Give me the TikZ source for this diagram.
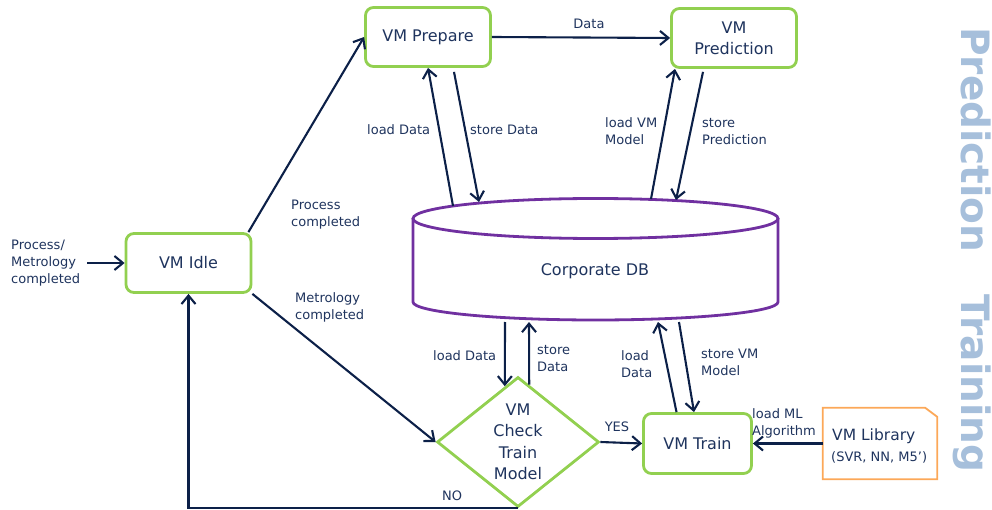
\documentclass[tikz,border=0pt]{standalone}
\usepackage{fontspec}
\setmainfont{DejaVu Sans}
\usetikzlibrary{arrows.meta,shapes.geometric,calc}

\definecolor{navytext}{RGB}{31,52,94}
\definecolor{navyline}{RGB}{12,32,72}
\definecolor{boxgreen}{RGB}{146,208,80}
\definecolor{dbpurple}{RGB}{112,48,160}
\definecolor{liborange}{RGB}{252,168,88}
\definecolor{phasecol}{RGB}{166,191,219}

\newcommand\mainsz{\fontsize{16}{21}\selectfont}
\newcommand\lblsz{\fontsize{13}{17}\selectfont}

\begin{document}
\begin{tikzpicture}[x=1pt,y=-1pt,
  statebox/.style={draw=boxgreen, line width=2.8pt, rounded corners=8pt, fill=white,
    text=navytext, font=\mainsz, align=center, inner sep=0pt},
  lbl/.style={text=navytext, font=\lblsz, align=left, inner sep=0pt},
  arr/.style={draw=navyline, line width=2.1pt, -{Straight Barb[length=8.5pt,width=14pt]}},
  phasetxt/.style={text=phasecol, font=\fontsize{39}{43}\selectfont\bfseries, rotate=-90, inner sep=0pt}
]
\fill[white] (0,0) rectangle (992,510);
\useasboundingbox (0,0) rectangle (992,510);

% workflow states
\node[statebox, minimum width=125pt, minimum height=59pt] (idle) at (188.5,263) {VM Idle};
\node[statebox, minimum width=125pt, minimum height=59pt] (prep) at (428,37) {VM Prepare};
\node[statebox, minimum width=125pt, minimum height=59pt] (pred) at (734,38) {VM\\Prediction};
\node[statebox, minimum width=108pt, minimum height=60pt] (train) at (697.5,443.5) {VM Train};

% decision
\node[diamond, draw=boxgreen, line width=2.8pt, minimum width=162pt, minimum height=130pt, inner sep=0pt] (chk) at (518,442) {};
\node[text=navytext, font=\fontsize{16}{21.5}\selectfont, align=center, inner sep=0pt] (chktxt) at (518,442) {VM\\Check\\Train\\Model};

% corporate database (cylinder)
\draw[draw=dbpurple, line width=2.8pt, fill=white] (413,218.5) -- (413,302)
  arc[start angle=180, end angle=360, x radius=182.5pt, y radius=18pt] -- (778,218.5);
\draw[draw=dbpurple, line width=2.8pt] (595.5,218.5) ellipse[x radius=182.5pt, y radius=20pt];
\node[text=navytext, font=\mainsz, inner sep=0pt] (db) at (595,271) {Corporate DB};
\coordinate (dbA) at (453,206);
\coordinate (dbB) at (479,202);
\coordinate (dbC) at (651,199);
\coordinate (dbD) at (676,200);
\coordinate (dbE) at (505,322);
\coordinate (dbF) at (529,322);
\coordinate (dbG) at (658,322);
\coordinate (dbH) at (679,322);

% algorithm library (document with clipped corner)
\node[minimum width=114pt, minimum height=71pt, inner sep=0pt] (lib) at (880,443.5) {};
\draw[draw=liborange, line width=1.8pt] (lib.south west) -- (lib.north west)
  -- ([xshift=-12pt]lib.north east) -- ([yshift=-9pt]lib.north east) -- (lib.south east) -- cycle;
\node[text=navytext, font=\fontsize{15.5}{19}\selectfont, anchor=base west, inner sep=0pt] (libname) at (832,440) {VM Library};
\node[text=navytext, font=\fontsize{13}{15}\selectfont, anchor=base west, inner sep=0pt] (libalgs) at (831,461) {(SVR, NN, M5’)};

% phase captions
\node[phasetxt, anchor=base west] (phpred) at (961,27) {Prediction};
\node[phasetxt, anchor=base west] (phtrain) at (961,294) {Training};

% labels
\node[lbl, anchor=west] (pm) at (11,263) {Process/\\Metrology\\completed};
\node[lbl, anchor=west] (lpc) at (291,215) {Process\\completed};
\node[lbl, anchor=west] (lmc) at (295,307.5) {Metrology\\completed};
\node[lbl] (ldata) at (589,24) {Data};
\node[lbl, anchor=west] (l1) at (367,130) {load Data};
\node[lbl, anchor=west] (l2) at (470,130) {store Data};
\node[lbl, anchor=west] (l3) at (605,131.5) {load VM\\Model};
\node[lbl, anchor=west] (l4) at (702,131.5) {store\\Prediction};
\node[lbl, anchor=west] (l5) at (433,356) {load Data};
\node[lbl, anchor=west] (l6) at (537,359) {store\\Data};
\node[lbl, anchor=west] (l7) at (621,364.5) {load\\Data};
\node[lbl, anchor=west] (l8) at (701,362) {store VM\\Model};
\node[lbl] (lyes) at (617,427) {YES};
\node[lbl] (lno) at (452,496) {NO};
\node[lbl, anchor=west] (lml) at (752,423) {load ML\\Algorithm};

% transitions
\draw[arr] ([xshift=7pt]pm.east) -- (idle.west);
\draw[arr] ([xshift=-4pt]idle.north east) -- (prep.west);
\draw[arr] (idle.south east) -- (chk.west);
\draw[arr] (chk.south) -- (chk.south -| idle.south) -- (idle.south);
\draw[arr] (chk.east) -- (train.west);
\draw[arr] (lib.west) -- (train.east);
\draw[arr] (prep.east) -- (pred.west);

% database access
\draw[arr] (dbA) -- (prep.south);
\draw[arr] ($(prep.south)+(26,4)$) -- (dbB);
\draw[arr] (dbC) -- ($(pred.south)+(-59,0)$);
\draw[arr] ($(pred.south)+(-31,3)$) -- (dbD);
\draw[arr] (dbE) -- ($(chk.north)!0.16!(chk.west)$);
\draw[arr] ($(chk.north)!0.136!(chk.east)$) -- (dbF);
\draw[arr] ($(train.north)+(-21,0)$) -- (dbG);
\draw[arr] (dbH) -- ($(train.north)+(-3.5,0)$);
\end{tikzpicture}
\end{document}
